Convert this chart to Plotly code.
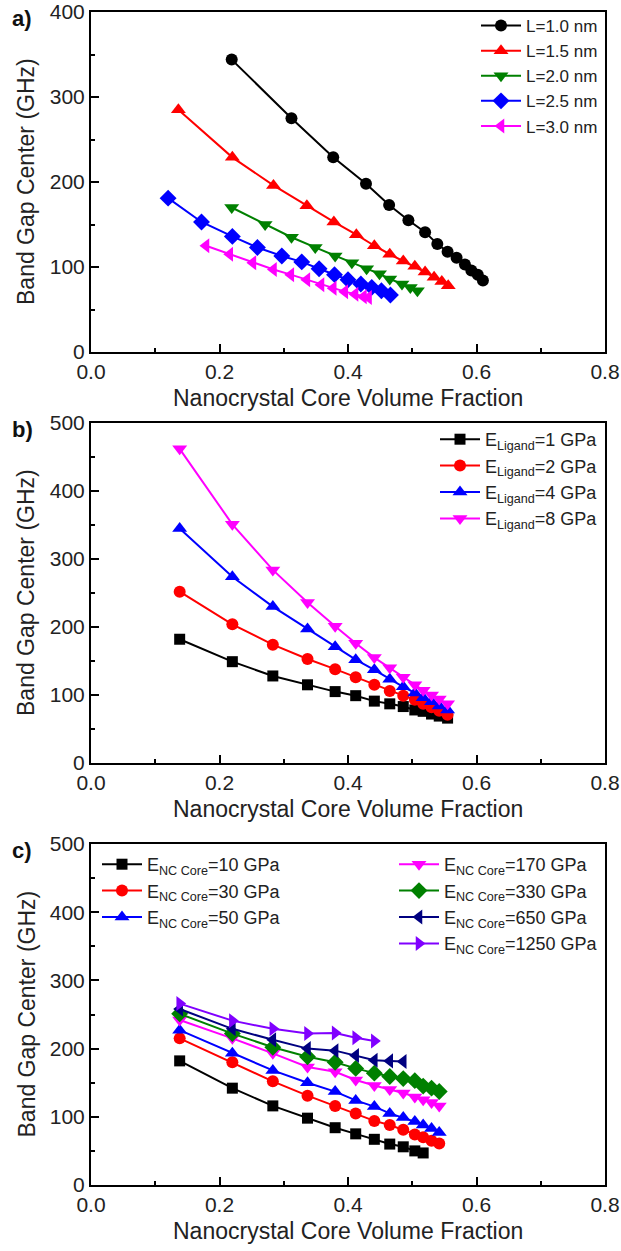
import plotly.graph_objects as go

# ---------------- Panel a: ligand length L ----------------
a_x_L10 = [0.219, 0.312, 0.377, 0.428, 0.464, 0.494, 0.520, 0.539, 0.555, 0.569, 0.582, 0.592, 0.602, 0.610]
a_y_L10 = [344, 275, 229, 198, 173, 155, 141, 127, 118, 111, 103, 96, 91, 84]
a_x_L15 = [0.136, 0.220, 0.284, 0.336, 0.378, 0.413, 0.441, 0.465, 0.486, 0.504, 0.520, 0.534, 0.546, 0.556]
a_y_L15 = [285, 229, 196, 172, 153, 138, 125, 115, 107, 101, 94, 88, 83, 78]
a_x_L20 = [0.219, 0.271, 0.312, 0.349, 0.380, 0.406, 0.429, 0.449, 0.465, 0.484, 0.497, 0.508]
a_y_L20 = [170, 150, 135, 123, 113, 105, 98, 92, 86, 80, 76, 72]
a_x_L25 = [0.120, 0.172, 0.220, 0.259, 0.297, 0.328, 0.355, 0.379, 0.400, 0.420, 0.437, 0.452, 0.466]
a_y_L25 = [181, 153, 136, 123, 113, 106, 98, 91, 85, 80, 76, 72, 67]
a_x_L30 = [0.179, 0.216, 0.252, 0.284, 0.311, 0.336, 0.358, 0.377, 0.395, 0.411, 0.424, 0.432]
a_y_L30 = [125, 115, 105, 97, 91, 85, 79, 75, 71, 68, 65, 64]
a_names = ["L=1.0 nm", "L=1.5 nm", "L=2.0 nm", "L=2.5 nm", "L=3.0 nm"]

# ---------------- Panel b: ligand modulus ----------------
b_x = [0.138, 0.220, 0.283, 0.337, 0.380, 0.412, 0.441, 0.465, 0.486, 0.504, 0.517, 0.530, 0.542, 0.555]
b_y_E1 = [182, 149, 128, 115, 105, 99, 91, 87, 83, 78, 76, 72, 69, 66]
b_y_E2 = [252, 204, 174, 153, 138, 126, 115, 106, 99, 93, 87, 82, 77, 71]
b_y_E4 = [345, 274, 230, 197, 171, 152, 137, 123, 112, 103, 96, 90, 84, 78]
b_y_E8 = [462, 351, 284, 236, 201, 176, 155, 140, 126, 115, 107, 100, 94, 87]
b_names = ["E<sub>Ligand</sub>=1 GPa", "E<sub>Ligand</sub>=2 GPa",
           "E<sub>Ligand</sub>=4 GPa", "E<sub>Ligand</sub>=8 GPa"]

# ---------------- Panel c: NC core modulus ----------------
c_x = [0.138, 0.220, 0.283, 0.337, 0.380, 0.412, 0.441, 0.465, 0.486, 0.504, 0.517, 0.530, 0.542]
c_y_E10 = [182, 142, 116, 98, 84, 75, 67, 60, 56, 50, 47]
c_y_E30 = [215, 180, 152, 131, 116, 105, 94, 88, 81, 74, 70, 65, 61]
c_y_E50 = [227, 193, 168, 150, 137, 124, 115, 105, 99, 93, 88, 83, 77]
c_y_E170 = [242, 215, 193, 173, 166, 154, 146, 140, 135, 129, 125, 121, 116]
c_y_E330 = [251, 222, 202, 188, 180, 171, 164, 159, 156, 153, 145, 142, 137]
c_y_E650 = [258, 229, 213, 200, 197, 190, 183, 182, 181]
c_y_E1250 = [266, 241, 229, 222, 223, 216, 211]
c_names = ["E<sub>NC Core</sub>=10 GPa", "E<sub>NC Core</sub>=30 GPa", "E<sub>NC Core</sub>=50 GPa",
           "E<sub>NC Core</sub>=170 GPa", "E<sub>NC Core</sub>=330 GPa", "E<sub>NC Core</sub>=650 GPa",
           "E<sub>NC Core</sub>=1250 GPa"]

x_ticks = [0.0, 0.2, 0.4, 0.6, 0.8]
x_ticklabels = ["0.0", "0.2", "0.4", "0.6", "0.8"]
x_title = "Nanocrystal Core Volume Fraction"
y_title = "Band Gap Center (GHz)"

BLACK, RED, GREEN, BLUE, MAG = "#000000", "#FF0000", "#008000", "#0000FF", "#FF00FF"
NAVY, VIOLET = "#000080", "#8000FF"
FONT = "Liberation Sans, Arial, sans-serif"

fig = go.Figure()


def add(x, y, name, color, symbol, xa, ya, legend, size=11):
    fig.add_trace(go.Scatter(
        x=x[:len(y)], y=y, name=name, mode="lines+markers",
        line=dict(color=color, width=2),
        marker=dict(color=color, symbol=symbol, size=size, line=dict(width=0)),
        xaxis=xa, yaxis=ya, legend=legend))


# panel a
add(a_x_L10, a_y_L10, a_names[0], BLACK, "circle", "x", "y", "legend", 12)
add(a_x_L15, a_y_L15, a_names[1], RED, "triangle-up", "x", "y", "legend", 13)
add(a_x_L20, a_y_L20, a_names[2], GREEN, "triangle-down", "x", "y", "legend", 13)
add(a_x_L25, a_y_L25, a_names[3], BLUE, "diamond", "x", "y", "legend", 13)
add(a_x_L30, a_y_L30, a_names[4], MAG, "triangle-left", "x", "y", "legend", 13)

# panel b
add(b_x, b_y_E1, b_names[0], BLACK, "square", "x2", "y2", "legend2", 11)
add(b_x, b_y_E2, b_names[1], RED, "circle", "x2", "y2", "legend2", 12)
add(b_x, b_y_E4, b_names[2], BLUE, "triangle-up", "x2", "y2", "legend2", 13)
add(b_x, b_y_E8, b_names[3], MAG, "triangle-down", "x2", "y2", "legend2", 13)

# panel c
add(c_x, c_y_E10, c_names[0], BLACK, "square", "x3", "y3", "legend3", 11)
add(c_x, c_y_E30, c_names[1], RED, "circle", "x3", "y3", "legend3", 12)
add(c_x, c_y_E50, c_names[2], BLUE, "triangle-up", "x3", "y3", "legend3", 13)
add(c_x, c_y_E170, c_names[3], MAG, "triangle-down", "x3", "y3", "legend4", 13)
add(c_x, c_y_E330, c_names[4], GREEN, "diamond", "x3", "y3", "legend4", 13)
add(c_x, c_y_E650, c_names[5], NAVY, "triangle-left", "x3", "y3", "legend4", 13)
add(c_x, c_y_E1250, c_names[6], VIOLET, "triangle-right", "x3", "y3", "legend4", 13)

# body margin is removed in the page (post_script), so figure pixels == page pixels
W, H = 621, 1251
XL, XR = 91, 605
panels = [(12, 352, 400), (423, 763, 500), (844, 1185, 500)]


def px(v):
    return v / W


def py(v):
    return 1 - v / H


axis_common = dict(
    showline=True, linecolor="black", linewidth=2, mirror=True,
    ticks="inside", ticklen=8, tickwidth=1.5, tickcolor="black",
    showgrid=False, zeroline=False, automargin=False,
    tickfont=dict(size=21, color="#222", family=FONT),
)

layout = dict(
    width=W, height=H, margin=dict(l=0, r=0, t=0, b=0, autoexpand=False),
    paper_bgcolor="white", plot_bgcolor="white",
    font=dict(family=FONT, color="#222"),
)

annotations = []
for i, (top, bot, ymax) in enumerate(panels):
    sfx = "" if i == 0 else str(i + 1)
    layout["xaxis" + sfx] = dict(
        axis_common, domain=[px(XL), px(XR)], range=[0, 0.8],
        tickvals=x_ticks, ticktext=x_ticklabels,
        minor=dict(ticks="inside", ticklen=4, tickwidth=1.5, tickcolor="black", dtick=0.1),
        anchor="y" + sfx,
    )
    layout["yaxis" + sfx] = dict(
        axis_common, domain=[py(bot), py(top)], range=[0, ymax], dtick=100,
        minor=dict(ticks="inside", ticklen=4, tickwidth=1.5, tickcolor="black", dtick=50),
        anchor="x" + sfx,
    )
    annotations.append(dict(text=x_title, x=px((XL + XR) / 2), y=py(bot + 46), xref="paper", yref="paper",
                            showarrow=False, font=dict(size=23, color="#222"), xanchor="center", yanchor="middle"))
    annotations.append(dict(text=y_title, x=px(26), y=py((top + bot) / 2), xref="paper", yref="paper",
                            textangle=-90, showarrow=False, font=dict(size=23, color="#222"),
                            xanchor="center", yanchor="middle"))
    annotations.append(dict(text="<b>" + "abc"[i] + ")</b>", x=px(22), y=py(top + 6), xref="paper", yref="paper",
                            showarrow=False, font=dict(size=22, color="#111"), xanchor="center", yanchor="middle"))

layout["annotations"] = annotations

leg_common = dict(bgcolor="rgba(0,0,0,0)", borderwidth=0, font=dict(size=18, color="#222", family=FONT),
                  itemwidth=40, tracegroupgap=0)
layout["legend"] = dict(leg_common, font=dict(size=17, color="#222", family=FONT),
                        x=px(603), y=py(8), xanchor="right", yanchor="top")
layout["legend2"] = dict(leg_common, x=px(603), y=py(421), xanchor="right", yanchor="top")
layout["legend3"] = dict(leg_common, x=px(97), y=py(846), xanchor="left", yanchor="top")
layout["legend4"] = dict(leg_common, x=px(603), y=py(846), xanchor="right", yanchor="top")

fig.update_layout(**layout)
fig.write_html("out.html", config={"displayModeBar": False},
               post_script="document.body.style.margin='0px';document.body.style.overflow='hidden';")
